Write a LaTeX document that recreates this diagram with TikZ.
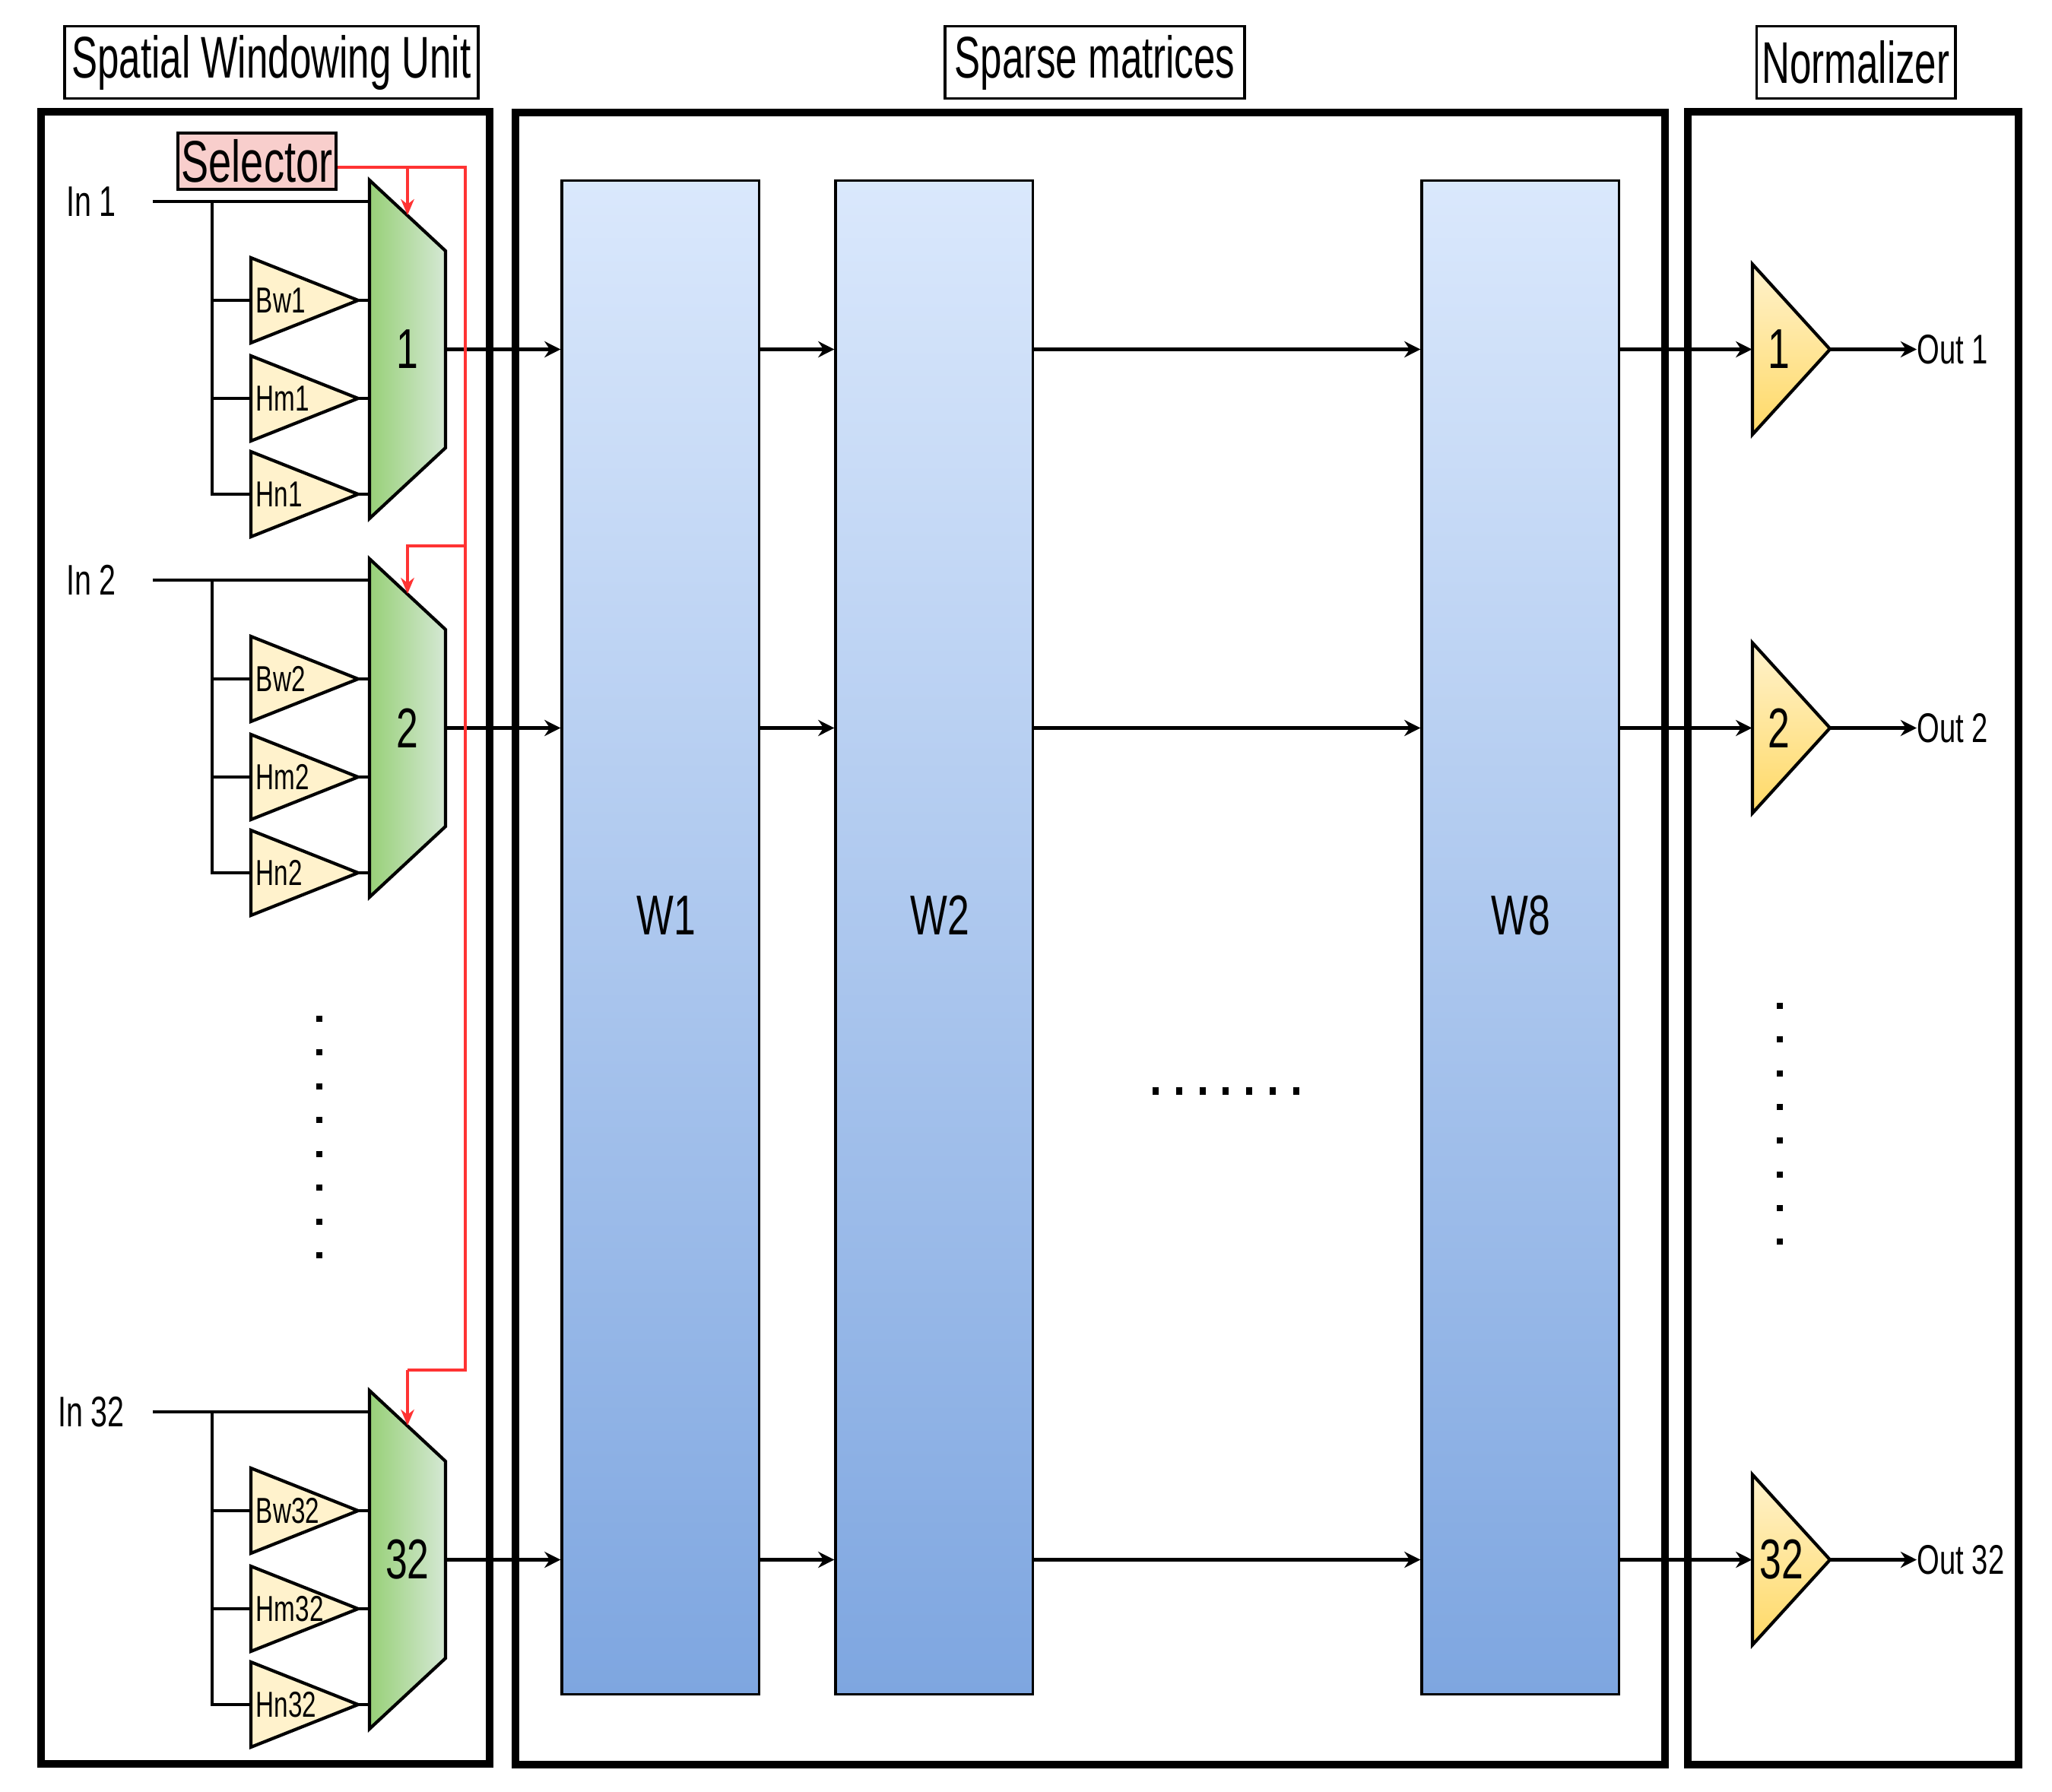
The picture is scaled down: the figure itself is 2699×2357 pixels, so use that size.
\documentclass[tikz,border=0pt]{standalone}
\usepackage{fontspec}
\setmainfont{Liberation Sans}[FakeStretch=0.7]
\newfontfamily\titlefont{Liberation Sans}[FakeStretch=0.66]
\usetikzlibrary{arrows.meta}

\definecolor{selpink}{HTML}{F8CECC}
\definecolor{muxgreen}{HTML}{97D077}
\definecolor{muxpale}{HTML}{D5E8D4}
\definecolor{ampyellow}{HTML}{FFF2CC}
\definecolor{nrmyellow}{HTML}{FFD966}
\definecolor{wtop}{HTML}{DAE8FC}
\definecolor{wbottom}{HTML}{7EA6E0}
\definecolor{sigred}{HTML}{FF3333}

\tikzset{
  unitbox/.style={draw, line width=2.6pt},
  titlebox/.style={draw, line width=1.1pt, inner sep=0pt, minimum height=0.95cm,
    font=\titlefont\fontsize{22}{26}\selectfont},
  selbox/.style={draw, line width=1.1pt, fill=selpink, inner sep=0pt,
    minimum width=2.08cm, minimum height=0.74cm, font=\fontsize{22}{26}\selectfont},
  inlabel/.style={inner sep=0pt, minimum width=1.6cm, font=\fontsize{16}{19}\selectfont},
  wire/.style={line width=1.2pt},
  arr/.style={wire, -{Stealth[length=6pt,width=6pt]}},
  sig/.style={draw=sigred, line width=0.9pt},
  sigarr/.style={sig, -{Stealth[length=6pt,width=5pt]}},
  muxshape/.style={draw, line width=1.2pt, left color=muxgreen, right color=muxpale},
  muxnode/.style={inner sep=0pt, minimum width=1cm, minimum height=4.45cm,
    font=\fontsize{21}{25}\selectfont},
  ampshape/.style={draw, line width=1.2pt, fill=ampyellow},
  ampnode/.style={inner xsep=0.07cm, inner ysep=0pt, text width=1.27cm, align=left,
    minimum height=1.12cm, font=\fontsize{13.5}{16}\selectfont},
  wcol/.style={draw, line width=0.9pt, top color=wtop, bottom color=wbottom,
    minimum width=2.59cm, minimum height=19.9cm},
  wlabel/.style={inner sep=0pt, font=\fontsize{21}{25}\selectfont},
  nrmshape/.style={draw, line width=1.2pt, top color=ampyellow, bottom color=nrmyellow},
  nrmnode/.style={inner sep=0pt, minimum width=1.02cm, minimum height=2.24cm},
  nrmtext/.style={inner sep=0pt, font=\fontsize{21}{25}\selectfont},
  outlabel/.style={anchor=west, inner sep=0pt, font=\fontsize{15.5}{18}\selectfont},
}

\begin{document}
\begin{tikzpicture}[x=0.01cm, y=-0.01cm]
  \fill[white] (0,0) rectangle (2699,2357);
  \useasboundingbox (0,0) rectangle (2699,2357);

  % unit frames and titles
  \draw[unitbox] (54,147) rectangle (644,2320);
  \draw[unitbox] (678,148) rectangle (2190,2321);
  \draw[unitbox] (2220,147) rectangle (2655,2321);
  \node[titlebox, minimum width=5.44cm] (tswu) at (357,82) {Spatial Windowing Unit};
  \node[titlebox, minimum width=3.93cm] (tspm) at (1440,82) {Sparse matrices};
  \node[titlebox, minimum width=2.61cm] (tnrm) at (2441,82) {Normalizer};

  % muxes
  \draw[muxshape] (486,237) -- (586,330) -- (586,589) -- (486,682) -- cycle;
  \draw[muxshape] (486,735) -- (586,828) -- (586,1087) -- (486,1180) -- cycle;
  \draw[muxshape] (486,1829) -- (586,1922) -- (586,2181) -- (486,2274) -- cycle;

  % window amplifiers
  \draw[ampshape] (330,339) -- (471,395) -- (330,451) -- cycle;
  \draw[ampshape] (330,468) -- (471,524) -- (330,580) -- cycle;
  \draw[ampshape] (330,594) -- (471,650) -- (330,706) -- cycle;
  \draw[ampshape] (330,837) -- (471,893) -- (330,949) -- cycle;
  \draw[ampshape] (330,966) -- (471,1022) -- (330,1078) -- cycle;
  \draw[ampshape] (330,1092) -- (471,1148) -- (330,1204) -- cycle;
  \draw[ampshape] (330,1931) -- (471,1987) -- (330,2043) -- cycle;
  \draw[ampshape] (330,2060) -- (471,2116) -- (330,2172) -- cycle;
  \draw[ampshape] (330,2186) -- (471,2242) -- (330,2298) -- cycle;

  % normalizers
  \draw[nrmshape] (2305,347.5) -- (2407,459.5) -- (2305,571.5) -- cycle;
  \draw[nrmshape] (2305,845.5) -- (2407,957.5) -- (2305,1069.5) -- cycle;
  \draw[nrmshape] (2305,1939.5) -- (2407,2051.5) -- (2305,2163.5) -- cycle;

  % nodes
  \node[selbox] (sel) at (338,212) {Selector};
  \node[inlabel] (in1) at (120,265) {In 1};
  \node[inlabel] (in2) at (120,763) {In 2};
  \node[inlabel] (in32) at (120,1857) {In 32};
  \node[muxnode] (mux1) at (536,459.5) {1};
  \node[muxnode] (mux2) at (536,957.5) {2};
  \node[muxnode] (mux32) at (536,2051.5) {32};
  \node[ampnode] (bw1) at (400.5,395) {Bw1};
  \node[ampnode] (hm1) at (400.5,524) {Hm1};
  \node[ampnode] (hn1) at (400.5,650) {Hn1};
  \node[ampnode] (bw2) at (400.5,893) {Bw2};
  \node[ampnode] (hm2) at (400.5,1022) {Hm2};
  \node[ampnode] (hn2) at (400.5,1148) {Hn2};
  \node[ampnode] (bw32) at (400.5,1987) {Bw32};
  \node[ampnode] (hm32) at (400.5,2116) {Hm32};
  \node[ampnode] (hn32) at (400.5,2242) {Hn32};
  \node[wcol] (w1) at (868.5,1233) {};
  \node[wcol] (w2) at (1228.5,1233) {};
  \node[wcol] (w8) at (1999.5,1233) {};
  \node[wlabel] (wlab1) at (876,1204) {W1};
  \node[wlabel] (wlab2) at (1236,1204) {W2};
  \node[wlabel] (wlab8) at (2000,1204) {W8};
  \node[nrmnode] (nrm1) at (2356,459.5) {};
  \node[nrmnode] (nrm2) at (2356,957.5) {};
  \node[nrmnode] (nrm32) at (2356,2051.5) {};
  \node[nrmtext] (nlab1) at (2340,459.5) {1};
  \node[nrmtext] (nlab2) at (2340,957.5) {2};
  \node[nrmtext] (nlab32) at (2343,2051.5) {32};
  \node[outlabel] (out1) at (2521,459.5) {Out 1};
  \node[outlabel] (out2) at (2521,957.5) {Out 2};
  \node[outlabel] (out32) at (2521,2051.5) {Out 32};

  \coordinate (tap1) at (279,265);
  \coordinate (tap2) at (279,763);
  \coordinate (tap32) at (279,1857);
  \coordinate (rtop) at (612,220);
  \coordinate (rmid) at (612,718);
  \coordinate (rbot) at (612,1802);
  \coordinate (sel1) at (536,283);
  \coordinate (sel2) at (536,781);
  \coordinate (sel32) at (536,1875);

  % row 1
  \draw[wire] (in1.east) -- (in1.east -| mux1.west);
  \draw[wire] (tap1) |- (hn1.west);
  \draw[wire] (tap1 |- bw1) -- (bw1.west);
  \draw[wire] (tap1 |- hm1) -- (hm1.west);
  \draw[wire] (bw1.east) -- (bw1.east -| mux1.west);
  \draw[wire] (hm1.east) -- (hm1.east -| mux1.west);
  \draw[wire] (hn1.east) -- (hn1.east -| mux1.west);
  \draw[arr] (mux1.east) -- (mux1.east -| w1.west);
  \draw[arr] (mux1.east -| w1.east) -- (mux1.east -| w2.west);
  \draw[arr] (mux1.east -| w2.east) -- (mux1.east -| w8.west);
  \draw[arr] (mux1.east -| w8.east) -- (nrm1.west);
  \draw[arr] (nrm1.east) -- (out1.west);

  % row 2
  \draw[wire] (in2.east) -- (in2.east -| mux2.west);
  \draw[wire] (tap2) |- (hn2.west);
  \draw[wire] (tap2 |- bw2) -- (bw2.west);
  \draw[wire] (tap2 |- hm2) -- (hm2.west);
  \draw[wire] (bw2.east) -- (bw2.east -| mux2.west);
  \draw[wire] (hm2.east) -- (hm2.east -| mux2.west);
  \draw[wire] (hn2.east) -- (hn2.east -| mux2.west);
  \draw[arr] (mux2.east) -- (mux2.east -| w1.west);
  \draw[arr] (mux2.east -| w1.east) -- (mux2.east -| w2.west);
  \draw[arr] (mux2.east -| w2.east) -- (mux2.east -| w8.west);
  \draw[arr] (mux2.east -| w8.east) -- (nrm2.west);
  \draw[arr] (nrm2.east) -- (out2.west);

  % row 32
  \draw[wire] (in32.east) -- (in32.east -| mux32.west);
  \draw[wire] (tap32) |- (hn32.west);
  \draw[wire] (tap32 |- bw32) -- (bw32.west);
  \draw[wire] (tap32 |- hm32) -- (hm32.west);
  \draw[wire] (bw32.east) -- (bw32.east -| mux32.west);
  \draw[wire] (hm32.east) -- (hm32.east -| mux32.west);
  \draw[wire] (hn32.east) -- (hn32.east -| mux32.west);
  \draw[arr] (mux32.east) -- (mux32.east -| w1.west);
  \draw[arr] (mux32.east -| w1.east) -- (mux32.east -| w2.west);
  \draw[arr] (mux32.east -| w2.east) -- (mux32.east -| w8.west);
  \draw[arr] (mux32.east -| w8.east) -- (nrm32.west);
  \draw[arr] (nrm32.east) -- (out32.west);

  % selector lines
  \draw[sig] (sel.east |- rtop) -- (rtop) -- (rbot) -| (sel32 |- rbot);
  \draw[sigarr] (sel32 |- rbot) -- (sel32);
  \draw[sigarr] (sel1 |- rtop) -- (sel1);
  \draw[sigarr] (rmid) -| (sel2);

  % ellipses
  \draw[line width=0.08cm, dash pattern=on 0.08cm off 0.364cm] (420,1336) -- (420,1656);
  \draw[line width=0.08cm, dash pattern=on 0.08cm off 0.363cm] (2341,1319) -- (2341,1638);
  \draw[line width=0.10cm, dash pattern=on 0.08cm off 0.228cm] (1516,1435) -- (1709,1435);
\end{tikzpicture}
\end{document}
